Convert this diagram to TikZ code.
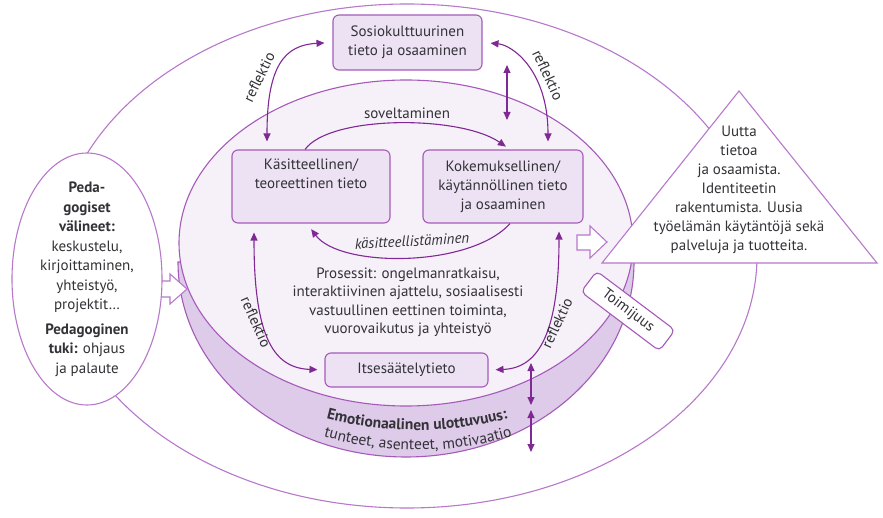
\documentclass[tikz,border=0pt]{standalone}
\usepackage{fontspec}
\setmainfont{PT Sans}
\usetikzlibrary{arrows.meta,decorations.text,shapes.geometric,calc}
\definecolor{lc}{RGB}{184,120,204}
\definecolor{dc}{RGB}{165,90,185}
\definecolor{ac}{RGB}{128,40,148}
\definecolor{discfill}{RGB}{246,240,249}
\definecolor{bandfill}{RGB}{222,202,233}
\definecolor{boxfill}{RGB}{237,226,243}
\definecolor{tc}{RGB}{50,50,55}
\newcommand{\mainfs}{\fontsize{15}{19}\selectfont}
\newcommand{\emofs}{\fontsize{15.5}{19}\selectfont}
\begin{document}
\begin{tikzpicture}[x=1pt,y=1pt,
  outl/.style={draw=lc, line width=1.1pt},
  disco/.style={draw=dc, line width=1.1pt},
  kbox/.style={draw=dc, line width=1.1pt, fill=boxfill, rounded corners=6pt, align=center, text=tc, font=\mainfs, inner sep=0pt},
  biarr/.style={draw=ac, line width=1.1pt, {Triangle[length=8pt,width=7pt]}-{Triangle[length=8pt,width=7pt]}},
  lbl/.style={text=tc, font=\mainfs, inner sep=1pt},
  blockarr/.style={draw=lc, line width=1.1pt, fill=white, line join=miter}
]
\useasboundingbox (0,0) rectangle (883,517);
\fill[white] (0,0) rectangle (883,517);
% outer ellipse
\node[outl, ellipse, minimum width=700, minimum height=504, inner sep=0pt] (outer) at (407,261) {};
% disc: band and top
\path[disco, fill=bandfill] (178,255) arc[start angle=180, end angle=360, x radius=228, y radius=195] -- cycle;
\node[disco, fill=discfill, ellipse, minimum width=454, minimum height=326, inner sep=0pt] (disc) at (406,274) {};
% triangle
\coordinate (tA) at (739,426);
\coordinate (tB) at (602,254);
\coordinate (tC) at (877,254);
\draw[outl, fill=white] (tA) -- (tB) -- (tC) -- cycle;
\node[lbl, align=center] (tri) at (739,327.5) {Uutta\\tietoa\\ja osaamista.\\Identiteetin\\rakentumista. Uusia\\työelämän käytäntöjä sekä\\palveluja ja tuotteita.};
% block arrows
\draw[blockarr] (150,236)--(170,236)--(170,243)--(187,228)--(170,213)--(170,220)--(150,220)--cycle;
\draw[blockarr] (577,282)--(590,282)--(590,291)--(607,275)--(590,259)--(590,267)--(577,267)--cycle;
% left ellipse
\node[outl, fill=white, ellipse, minimum width=150, minimum height=252, inner sep=0pt] (ped) at (87,238) {};
\node[lbl, align=center, font=\fontsize{15}{19.5}\selectfont] (pedtxt) at (87,237.5) {\textbf{Peda-}\\\textbf{gogiset}\\\textbf{välineet:}\\keskustelu,\\kirjoittaminen,\\yhteistyö,\\projektit…\\[5pt]\textbf{Pedagoginen}\\\textbf{tuki:} ohjaus\\ja palaute};
% boxes
\node[kbox, minimum width=149, minimum height=55] (sos) at (407.5,474.5) {Sosiokulttuurinen\\tieto ja osaaminen};
\node[kbox, minimum width=158, minimum height=73] (kas) at (311,330.5) {Käsitteellinen/\\teoreettinen tieto\\\strut};
\node[kbox, minimum width=160, minimum height=73] (kok) at (503,330.5) {Kokemuksellinen/\\käytännöllinen tieto\\ja osaaminen};
\node[kbox, minimum width=163, minimum height=34] (its) at (406.5,147) {Itsesäätelytieto};
\node[draw=dc, line width=1.1pt, fill=white, rounded corners=5pt, rotate=-37, minimum width=98, minimum height=26, font=\mainfs, text=tc, inner sep=0pt] (toim) at (628,206) {Toimijuus};
% processes text
\node[lbl, align=center, font=\fontsize{15}{18.5}\selectfont] (pros) at (408,214.5) {Prosessit: ongelmanratkaisu,\\interaktiivinen ajattelu, sosiaalisesti\\vastuullinen eettinen toiminta,\\vuorovaikutus ja yhteistyö};
% arrows
\draw[biarr, shorten <=8pt, shorten >=8pt] ([xshift=-44pt]kas.north) .. controls (267,452) and (285,472) .. (sos.west);
\node[lbl, rotate=64] (r1) at (259,440) {reflektio};
\draw[biarr, shorten <=8pt, shorten >=8pt] (sos.east) .. controls (512,472) and (548,447) .. ([xshift=45pt]kok.north);
\node[lbl, rotate=-65] (r2) at (548,442) {reflektio};
\coordinate (v1) at (507,452);
\coordinate (v2) at (507,397);
\draw[biarr] (v1) -- (v2);
\draw[draw=ac, line width=1.1pt, -{Triangle[length=8pt,width=7pt]}, shorten >=5pt] ([xshift=-6pt]kas.north) .. controls (330,402) and (460,402) .. ([xshift=7pt]kok.north);
\node[lbl] (sov) at (407,404) {soveltaminen};
\draw[draw=ac, line width=1.1pt, -{Triangle[length=8pt,width=7pt]}, shorten >=7pt] ([xshift=7pt]kok.south) .. controls (470,249) and (340,249) .. ([xshift=-4pt]kas.south);
\node[lbl, rotate=3, font=\mainfs\itshape, fill=discfill, inner sep=0pt] (kasl) at (412,276) {käsitteellistäminen};
\draw[biarr, shorten <=9pt, shorten >=7pt] ([xshift=-57pt]kas.south) .. controls (254,177) and (275,149) .. (its.west);
\node[lbl, rotate=-66] (r3) at (256,195) {reflektio};
\draw[biarr, shorten <=8pt, shorten >=7pt] ([xshift=56pt]kok.south) .. controls (559,187) and (540,149) .. (its.east);
\node[lbl, rotate=65] (r4) at (557,194) {reflektio};
\coordinate (e1) at (531,154);
\coordinate (e2) at (531,112);
\coordinate (e3) at (531,107);
\coordinate (e4) at (531,65);
\draw[biarr] (e1) -- (e2);
\draw[biarr] (e3) -- (e4);
% emotional dimension text
\path[decorate, decoration={text along path, text={|\emofs\bfseries\color{tc}|Emotionaalinen ulottuvuus:}, text align=center}] ([shift={(225:250 and 168)}]417,255) arc[start angle=225, end angle=315, x radius=250, y radius=168];
\path[decorate, decoration={text along path, text={|\emofs\color{tc}|tunteet, asenteet, motivaatio}, text align=center}] ([shift={(230:252 and 188)}]418,255) arc[start angle=230, end angle=310, x radius=252, y radius=188];
\end{tikzpicture}
\end{document}
